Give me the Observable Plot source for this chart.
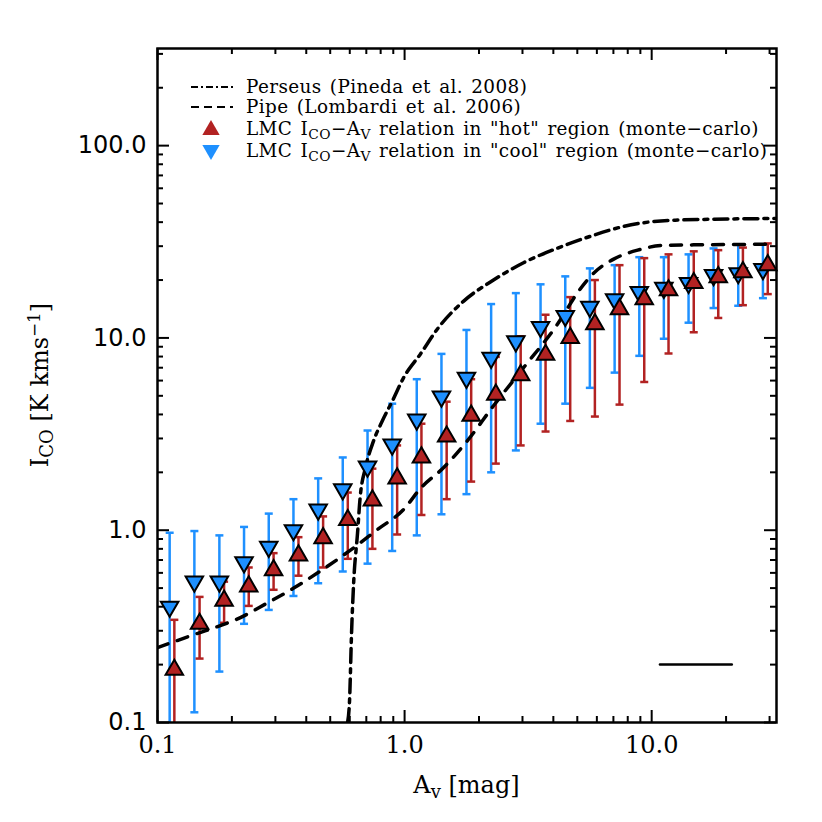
<!DOCTYPE html>
<html><head><meta charset="utf-8">
<script src="https://cdn.jsdelivr.net/npm/d3@7"></script>
<script src="https://cdn.jsdelivr.net/npm/@observablehq/plot@0.6"></script>
<style>
body{margin:0;background:#fff}
#chart{position:relative;width:822px;height:822px}
</style>
</head><body><div id="chart"></div>
<script>
// ---------- data ----------
const coolAv  = [0.112,0.141,0.178,0.224,0.282,0.355,0.447,0.562,0.708,0.891,1.12,1.41,1.78,2.24,2.82,3.55,4.47,5.62,7.08,8.91,11.2,14.1,17.8,22.4,28.2];
const coolIco = [0.40,0.54,0.54,0.68,0.82,1.00,1.28,1.63,2.14,2.79,3.76,4.95,6.2,7.87,9.6,11.4,13.0,14.5,15.9,17.3,18.2,19.3,21.2,21.7,22.8];
const coolLo  = [0.05,0.113,0.184,0.326,0.385,0.455,0.53,0.61,0.67,0.78,0.94,1.21,1.54,2.0,2.6,3.58,4.55,5.5,6.6,8.07,9.9,12.0,14.3,14.7,16.1];
const coolHi  = [0.97,0.99,0.94,1.04,1.22,1.45,1.86,2.39,3.3,4.55,6.1,8.26,11.0,15.0,17.1,19.0,20.9,23.0,23.9,26.3,26.3,27.2,29.2,30.7,30.7];

const hotAv  = [0.117,0.148,0.186,0.234,0.295,0.372,0.468,0.589,0.741,0.933,1.17,1.48,1.86,2.34,2.95,3.72,4.68,5.89,7.41,9.33,11.7,14.8,18.6,23.4,29.5];
const hotIco = [0.188,0.326,0.43,0.51,0.62,0.74,0.91,1.13,1.43,1.86,2.39,3.07,3.94,5.07,6.4,8.17,10.0,11.8,14.1,15.9,17.7,19.3,20.7,22.0,23.9];
const hotLo  = [0.05,0.215,0.33,0.404,0.49,0.58,0.64,0.71,0.80,0.95,1.2,1.45,1.79,2.22,2.76,3.26,3.7,3.9,4.5,5.9,8.3,10.7,12.7,14.8,16.9];
const hotHi  = [0.342,0.45,0.54,0.64,0.76,0.92,1.18,1.57,2.09,2.76,3.58,4.66,6.1,7.97,10.2,13.2,16.3,20.0,23.9,26.0,27.2,28.2,28.6,29.5,31.0];

const perseusAv  = [0.588,0.599,0.610,0.622,0.645,0.66,0.695,0.742,0.814,0.894,0.99,1.16,1.37,1.73,2.29,3.03,4.16,5.66,7.70,11.9,31.8];
const perseusIco = [0.1,0.1316,0.292,0.531,0.965,1.45,2.12,2.82,3.72,4.72,6.2,8.26,11.3,15.5,20.0,24.6,29.3,33.8,38.0,40.9,41.8];

const pipeAv  = [0.1,0.140,0.183,0.207,0.279,0.356,0.457,0.604,0.778,0.99,1.16,1.44,1.80,2.29,3.03,4.16,5.06,5.82,7.02,8.77,11.2,31.7];
const pipeIco = [0.245,0.286,0.322,0.342,0.419,0.50,0.614,0.788,1.01,1.28,1.65,2.12,2.93,4.44,7.0,11.8,17.5,21.7,25.7,28.6,30.3,30.7];

const strayAv  = [10.8,21.1];
const strayIco = [0.2,0.2];

const xMajor = [0.1,1,10];
const xMinor = [0.2,0.3,0.4,0.5,0.6,0.7,0.8,0.9,2,3,4,5,6,7,8,9,20,30];
const yMajor = [0.1,1,10,100];
const yMinor = [0.2,0.3,0.4,0.5,0.6,0.7,0.8,0.9,2,3,4,5,6,7,8,9,20,30,40,50,60,70,80,90,200,300];

const legendLabels = [
  "Perseus (Pineda et al. 2008)",
  "Pipe (Lombardi et al. 2006)",
  "\"hot\" region (monte\u2212carlo)",
  "\"cool\" region (monte\u2212carlo)"
];

const xDomain = [0.1, 32];
const yDomain = [0.1, 320];

const hotColor = "#b22222";
const coolColor = "#1e90ff";

// ---------- tables ----------
const cool = coolAv.map((x,i)=>({x, y: coolIco[i], lo: coolLo[i], hi: coolHi[i]}));
const hot  = hotAv.map((x,i)=>({x, y: hotIco[i], lo: hotLo[i], hi: hotHi[i]}));
const perseus = perseusAv.map((x,i)=>({x, y: perseusIco[i]}));
const pipe = pipeAv.map((x,i)=>({x, y: pipeIco[i]}));
const stray = strayAv.map((x,i)=>({x, y: strayIco[i]}));

const W = 822, H = 822, mL = 157, mR = 46, mT = 48, mB = 100;
const fH = H - mT - mB, fW = W - mL - mR;
const majLen = 12, minLen = 6;

const capSymbol = {draw(ctx, size){ const r = Math.sqrt(size/Math.PI); ctx.moveTo(-r,0); ctx.lineTo(r,0); }};

function errMarks(data, color){
  return [
    Plot.ruleX(data, {x:"x", y1:"lo", y2:"hi", stroke: color, strokeWidth: 2.5, clip: true}),
    Plot.dot(data, {x:"x", y:"lo", symbol: capSymbol, r: 4, stroke: color, strokeWidth: 2.5, fill: "none", clip: true}),
    Plot.dot(data, {x:"x", y:"hi", symbol: capSymbol, r: 4, stroke: color, strokeWidth: 2.5, fill: "none", clip: true})
  ];
}

const tickStyle = {stroke: "black", strokeWidth: 2};

const plot = Plot.plot({
  width: W, height: H,
  marginLeft: mL, marginRight: mR, marginTop: mT, marginBottom: mB,
  style: {background: "white"},
  x: {type: "log", domain: xDomain, axis: null},
  y: {type: "log", domain: yDomain, axis: null},
  marks: [
    ...errMarks(cool, coolColor),
    ...errMarks(hot, hotColor),
    Plot.line(perseus, {x:"x", y:"y", stroke:"black", strokeWidth: 3.5, strokeDasharray: "14,6,4,6", curve: "monotone-x", clip: true}),
    Plot.line(pipe, {x:"x", y:"y", stroke:"black", strokeWidth: 3.5, strokeDasharray: "11,10", curve: "monotone-x", clip: true}),
    Plot.line(stray, {x:"x", y:"y", stroke:"black", strokeWidth: 2.5}),
    Plot.dot(cool, {x:"x", y:"y", symbol:"triangle", rotate: 180, r: 6.5, fill: coolColor, stroke:"black", strokeWidth: 2}),
    Plot.dot(hot, {x:"x", y:"y", symbol:"triangle", r: 6.5, fill: hotColor, stroke:"black", strokeWidth: 2}),
    // inward ticks on all four sides
    Plot.tickX(xMajor, {x: d=>d, insetTop: fH - majLen, ...tickStyle}),
    Plot.tickX(xMinor, {x: d=>d, insetTop: fH - minLen, ...tickStyle}),
    Plot.tickX(xMajor, {x: d=>d, insetBottom: fH - majLen, ...tickStyle}),
    Plot.tickX(xMinor, {x: d=>d, insetBottom: fH - minLen, ...tickStyle}),
    Plot.tickY(yMajor, {y: d=>d, insetRight: fW - majLen, ...tickStyle}),
    Plot.tickY(yMinor, {y: d=>d, insetRight: fW - minLen, ...tickStyle}),
    Plot.tickY(yMajor, {y: d=>d, insetLeft: fW - majLen, ...tickStyle}),
    Plot.tickY(yMinor, {y: d=>d, insetLeft: fW - minLen, ...tickStyle}),
    Plot.axisX({ticks: xMajor, tickFormat: d=>d.toFixed(1), tickSize: 0, tickPadding: 13, fontSize: 24, fontFamily: "DejaVu Serif", label: null}),
    Plot.axisY({ticks: yMajor, tickFormat: d=>d.toFixed(1), tickSize: 0, tickPadding: 11, fontSize: 24, fontFamily: "DejaVu Sans", label: null}),
    Plot.frame({stroke: "black", strokeWidth: 2.5})
  ]
});
document.getElementById("chart").appendChild(plot);

// ---------- legend and axis titles with sub/superscripts ----------
const svg = d3.select(plot);
const serif = "DejaVu Serif";
function addRich(g, parts, attrs){
  const t = g.append("text").attr("font-family", serif).attr("fill","black").attr("text-anchor","start");
  for (const [k,v] of Object.entries(attrs)) t.attr(k, v);
  for (const p of parts){
    const s = t.append("tspan").text(p.t);
    if (p.sub){ s.attr("baseline-shift","-25%").attr("font-size","75%"); }
    if (p.sup){ s.attr("baseline-shift","45%").attr("font-size","70%"); }
  }
  return t;
}
const leg = svg.append("g");
const lx0 = 191, lx1 = 233, tx = 246, lfs = 18.4;
const rows = [87, 107, 129, 151];
const legAttr = (r) => ({x: tx, y: r, dy: "0.35em", "font-size": lfs, "letter-spacing": "0.4px", "word-spacing": "2px"});
leg.append("line").attr("x1",lx0).attr("x2",lx1).attr("y1",rows[0]).attr("y2",rows[0])
  .attr("stroke","black").attr("stroke-width",1.8).attr("stroke-dasharray","7,3,2,3");
leg.append("line").attr("x1",lx0).attr("x2",lx1).attr("y1",rows[1]).attr("y2",rows[1])
  .attr("stroke","black").attr("stroke-width",1.8).attr("stroke-dasharray","8,5");
const triUp = d3.symbol(d3.symbolTriangle, 130)();
leg.append("path").attr("d", triUp).attr("transform",`translate(211,${rows[2]+1})`).attr("fill",hotColor);
leg.append("path").attr("d", triUp).attr("transform",`translate(211,${rows[3]-1}) rotate(180)`).attr("fill",coolColor);
addRich(leg, [{t:legendLabels[0]}], legAttr(rows[0]));
addRich(leg, [{t:legendLabels[1]}], legAttr(rows[1]));
addRich(leg, [{t:"LMC I"},{t:"CO",sub:true},{t:"\u2212A"},{t:"V",sub:true},{t:" relation in " + legendLabels[2]}], legAttr(rows[2]));
addRich(leg, [{t:"LMC I"},{t:"CO",sub:true},{t:"\u2212A"},{t:"V",sub:true},{t:" relation in " + legendLabels[3]}], legAttr(rows[3]));

addRich(svg, [{t:"A"},{t:"v",sub:true},{t:" [mag]"}], {x: mL + fW/2, y: 793, "text-anchor":"middle", "font-size": 24});
addRich(svg, [{t:"I"},{t:"CO",sub:true},{t:" [K kms"},{t:"\u22121",sup:true},{t:"]"}], {transform:`translate(48,${mT+fH/2}) rotate(-90)`, "text-anchor":"middle", "font-size": 24});
</script>
</body></html>
